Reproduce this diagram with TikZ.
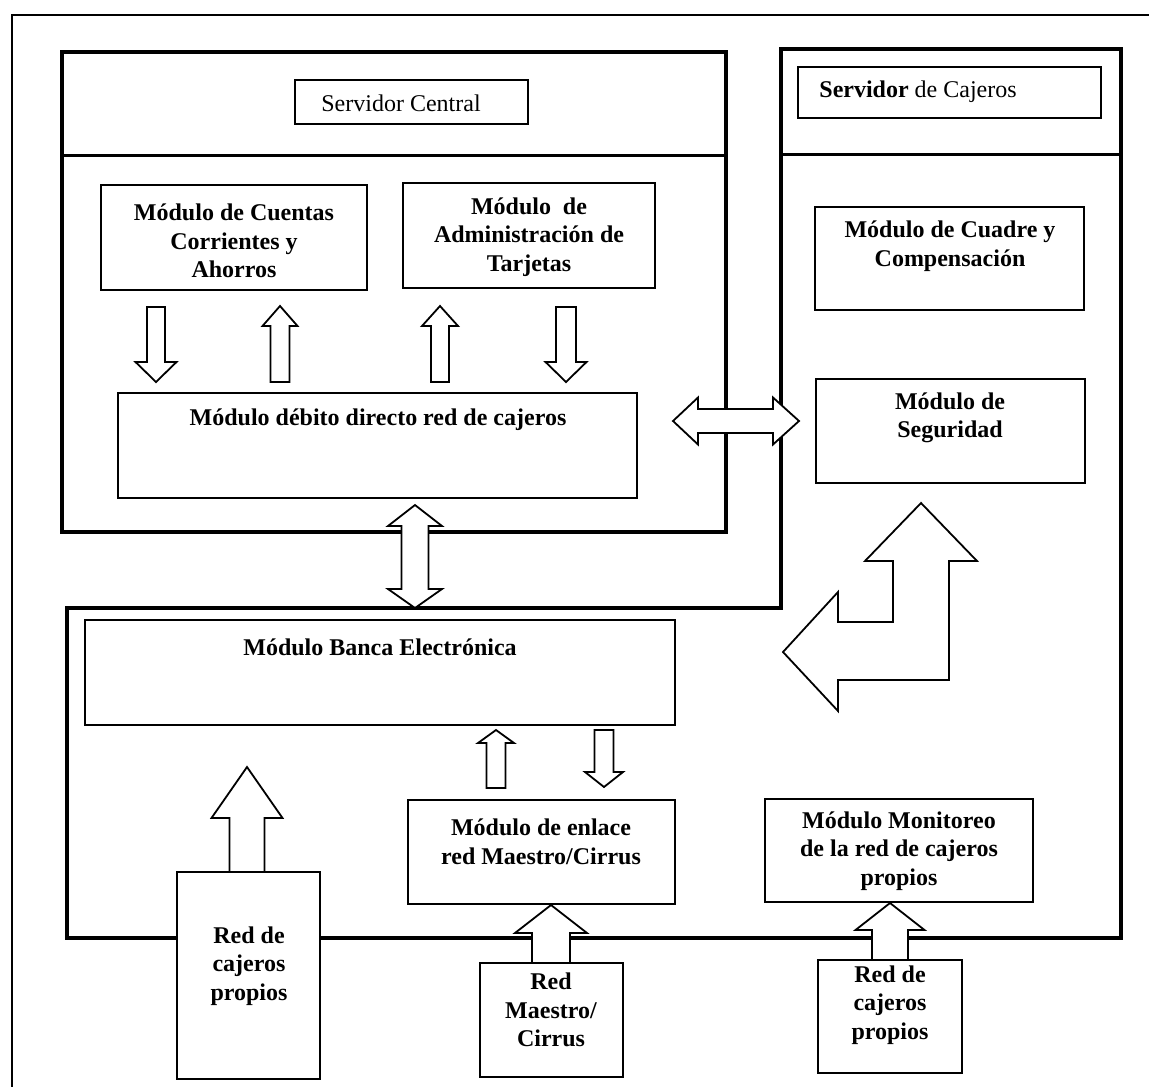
\documentclass[tikz,border=0pt]{standalone}
\usepackage{fontspec}
\setmainfont{Liberation Serif}
\begin{document}
\begin{tikzpicture}[x=0.5pt,y=-0.5pt]
\tikzset{
  frameline/.style={line width=1pt},
  panel/.style={line width=1.9pt, line join=miter},
  divider/.style={line width=1.5pt},
  box/.style={draw, line width=1pt, fill=white, inner sep=0pt},
  blk/.style={draw, line width=0.9pt, fill=white, line join=miter},
  lbl/.style={align=center, inner sep=0pt, font=\fontsize{12}{14.3}\selectfont\bfseries},
  plain/.style={inner sep=0pt, font=\fontsize{12}{14.3}\selectfont},
}
% module box: name, centre x, centre y, width (pt), height (pt)
\newcommand\modbox[5]{\node[box, minimum width=#4pt, minimum height=#5pt] (#1) at (#2,#3) {};}
% vertical block arrow: x, tail y, head base y, tip y, shaft half width, head half width
\newcommand\varrow[6]{\draw[blk] ({#1-#5},#2) -- ({#1-#5},#3) -- ({#1-#6},#3) -- (#1,#4)
  -- ({#1+#6},#3) -- ({#1+#5},#3) -- ({#1+#5},#2) -- cycle;}

\useasboundingbox (0,0) rectangle (1149,1087);

% outer frame
\draw[frameline] (1149,15) -- (12,15) -- (12,1087);

% central server panel
\draw[panel] (62,52) rectangle (726,532);
\draw[divider] (62,155) -- (726,155);

% ATM server panel joined with the electronic banking panel
\draw[panel] (67,608) -- (781,608) -- (781,49) -- (1121,49) -- (1121,938) -- (67,938) -- cycle;
\draw[divider] (781,154) -- (1121,154);

% header boxes
\modbox{srvc}{411.5}{102}{116.5}{22}
\node[plain] (srvc-t) at (401,103) {Servidor Central};
\modbox{srvj}{949.5}{92.5}{151.5}{25.5}
\node[plain, anchor=west] (srvj-t) at (819,92) {\textbf{Servidor} de Cajeros};

% modules
\modbox{cuentas}{234}{237.5}{133}{52.5}
\node[lbl] (cuentas-t) at (234,241) {Módulo de Cuentas\\Corrientes y\\Ahorros};
\modbox{tarjetas}{529}{235.5}{126}{52.5}
\node[lbl] (tarjetas-t) at (529,237) {Módulo\ \ de\\Administración de\\Tarjetas};
\modbox{debito}{377.5}{445.5}{259.5}{52.5}
\node[lbl] (debito-t) at (378,420) {Módulo débito directo red de cajeros};
\modbox{cuadre}{949.5}{258.5}{134.5}{51.5}
\node[lbl] (cuadre-t) at (950,246) {Módulo de Cuadre y\\Compensación};
\modbox{seguridad}{950.5}{431}{134.5}{52}
\node[lbl] (seguridad-t) at (950,418) {Módulo de\\Seguridad};
\modbox{banca}{380}{672.5}{295}{52.5}
\node[lbl] (banca-t) at (380,647) {Módulo Banca Electrónica};
\modbox{enlace}{541.5}{852}{133.5}{52}
\node[lbl] (enlace-t) at (541,842) {Módulo de enlace\\red Maestro/Cirrus};
\modbox{monitoreo}{899}{850.5}{134}{51.5}
\node[lbl] (monitoreo-t) at (899,851) {Módulo Monitoreo\\de la red de cajeros\\propios};

% small arrows between the account/card modules and the debit module
\varrow{156}{307}{362}{382}{9}{20.5}
\varrow{280}{382}{326}{306}{9.5}{17.5}
\varrow{440}{382}{326}{306}{9}{18}
\varrow{566}{307}{362}{382}{10}{20.5}

% debit module <-> ATM server
\draw[blk] (673,421) -- (698,397.5) -- (698,409) -- (773,409) -- (773,397.5) -- (799,421)
  -- (773,444.5) -- (773,433) -- (698,433) -- (698,444.5) -- cycle;

% central server <-> electronic banking
\draw[blk] (415,505) -- (442,526) -- (428.5,526) -- (428.5,589) -- (442,589) -- (415,608)
  -- (388,589) -- (401.5,589) -- (401.5,526) -- (388,526) -- cycle;

% bent arrow towards the security module and the banking panel
\draw[blk] (921,503) -- (977,561) -- (949,561) -- (949,680) -- (838,680) -- (838,711)
  -- (783,652) -- (838,592) -- (838,622) -- (893,622) -- (893,561) -- (865,561) -- cycle;

% electronic banking <-> Maestro/Cirrus link
\varrow{496}{788}{743}{730}{9.5}{18}
\varrow{604}{730}{772}{787}{9.5}{19}

% networks at the bottom
\varrow{247}{872}{818}{767}{17.5}{35.5}
\modbox{redA}{248.5}{975.5}{71.5}{103.5}
\node[lbl] (redA-t) at (249,966) {Red de\\cajeros\\propios};

\varrow{551}{963}{933}{905}{19}{36}
\modbox{redM}{551.5}{1020}{71.5}{57}
\node[lbl] (redM-t) at (551,1010) {Red\\Maestro/\\Cirrus};

\varrow{890}{960}{930}{903}{18}{34.5}
\modbox{redB}{890}{1016.5}{72}{56.5}
\node[lbl] (redB-t) at (890,1005) {Red de\\cajeros\\propios};
\end{tikzpicture}
\end{document}
